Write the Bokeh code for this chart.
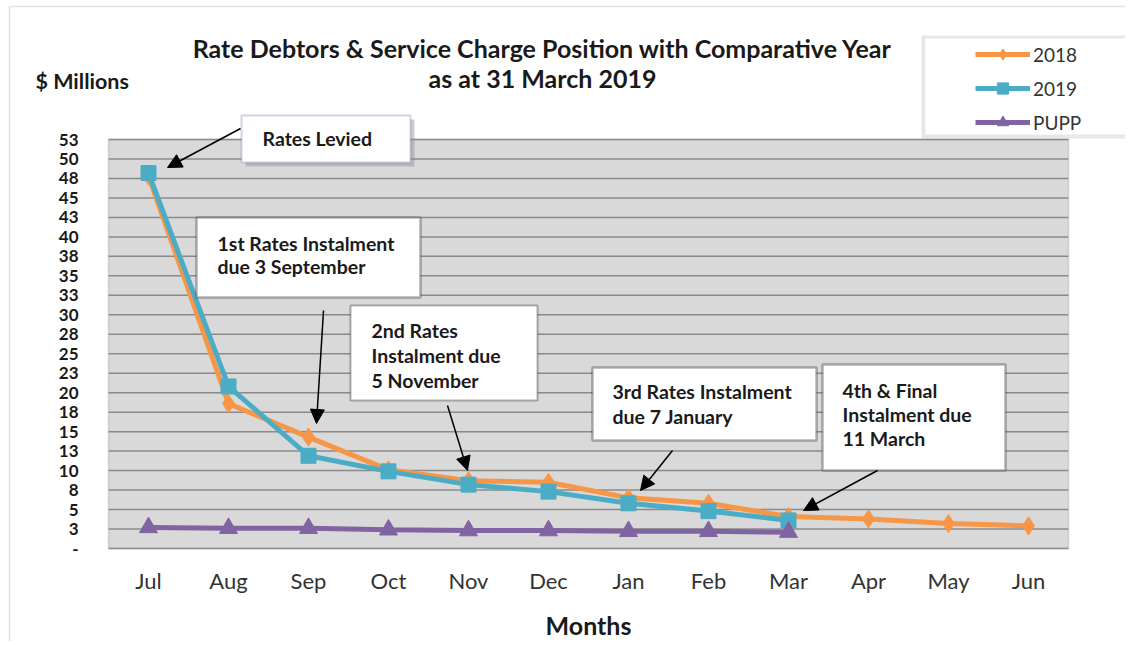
from bokeh.plotting import figure
from bokeh.models import (Range1d, FixedTicker, BoxAnnotation, Label,
                          Arrow, NormalHead, Legend, LegendItem)
from bokeh.embed import file_html
from bokeh.resources import INLINE

# ---------------- data ----------------
months = ["Jul", "Aug", "Sep", "Oct", "Nov", "Dec", "Jan", "Feb", "Mar", "Apr", "May", "Jun"]
rates_2018 = [47.8, 18.6, 14.3, 10.1, 8.7, 8.5, 6.5, 5.8, 4.1, 3.8, 3.2, 2.9]
rates_2019 = [48.2, 20.8, 11.9, 9.9, 8.2, 7.3, 5.8, 4.8, 3.6]
pupp = [2.7, 2.6, 2.6, 2.4, 2.3, 2.3, 2.2, 2.2, 2.1]
y_ticks = [0, 2.5, 5, 7.5, 10, 12.5, 15, 17.5, 20, 22.5, 25, 27.5, 30, 32.5, 35,
           37.5, 40, 42.5, 45, 47.5, 50, 52.5]
y_tick_labels = ["-", "3", "5", "8", "10", "13", "15", "18", "20", "23", "25", "28",
                 "30", "33", "35", "38", "40", "43", "45", "48", "50", "53"]
series_names = ["2018", "2019", "PUPP"]
title_text = "Rate Debtors & Service Charge Position with Comparative Year\nas at 31 March 2019"
y_unit = "$ Millions"
x_title = "Months"
notes = ["Rates Levied",
         "1st Rates Instalment\ndue 3 September",
         "2nd Rates\nInstalment due\n5 November",
         "3rd Rates Instalment\ndue 7 January",
         "4th & Final\nInstalment due\n11 March"]

FONT = "Lato"
ORANGE = "#F79646"
BLUE = "#4BACC6"
PURPLE = "#8064A2"

W, H = 1125, 641
FL, FB = 108, 548                   # plot-area left / bottom (pixels)
PXX = 80.0                          # pixels per month
PXY = 409.0 / y_ticks[-1]           # pixels per $m
n_months = len(months)
xpos = [i + 0.5 for i in range(n_months)]


def ux(px):
    return (px - FL) / PXX


def vy(py):
    return (FB - py) / PXY


# the frame covers the whole canvas; axes are pinned at the plot-area edges
p = figure(width=W, height=H, x_range=Range1d(ux(0), ux(W)),
           y_range=Range1d(vy(H), vy(0)), output_backend="svg", toolbar_location=None,
           min_border_left=0, min_border_right=0, min_border_top=0,
           min_border_bottom=0)
p.background_fill_color = "white"
p.border_fill_color = "white"
p.outline_line_color = None
p.grid.grid_line_color = None

# grey plot area
p.add_layout(BoxAnnotation(left=0, right=n_months, bottom=0, top=y_ticks[-1],
                           fill_color="#D9D9D9", fill_alpha=1, line_color="#8c8c8c",
                           line_width=1.5, level="underlay"))
# horizontal gridlines at the y ticks, limited to the plot area
p.segment(x0=[0] * len(y_ticks), x1=[n_months] * len(y_ticks), y0=y_ticks, y1=y_ticks,
          line_color="#8a8a8a", line_width=1.5)

yax = p.yaxis[0]
yax.fixed_location = 0
yax.ticker = FixedTicker(ticks=y_ticks)
yax.major_label_overrides = {t: l for t, l in zip(y_ticks, y_tick_labels)}
yax.axis_line_color = None
yax.major_tick_line_color = None
yax.minor_tick_line_color = None
yax.major_label_standoff = 24
yax.major_label_text_font = FONT
yax.major_label_text_font_style = "bold"
yax.major_label_text_font_size = "17px"
yax.major_label_text_color = "#1a1a1a"

xax = p.xaxis[0]
xax.fixed_location = 0
xax.ticker = FixedTicker(ticks=xpos)
xax.major_label_overrides = {x: m for x, m in zip(xpos, months)}
xax.axis_line_color = None
xax.major_tick_line_color = None
xax.minor_tick_line_color = None
xax.major_label_standoff = 12
xax.major_label_text_font = FONT
xax.major_label_text_font_size = "22px"
xax.major_label_text_color = "#333333"

# outer chart border (left & top)
p.add_layout(BoxAnnotation(left=ux(9), right=ux(W + 50), top=vy(6), bottom=vy(H + 50),
                           fill_alpha=0, line_color="#9a9a9a", line_width=1.5))

# series
l18 = p.line(xpos, rates_2018, line_color=ORANGE, line_width=5)
s18 = p.scatter(xpos, rates_2018, marker="diamond", size=18, fill_color=ORANGE,
                line_color=ORANGE)
l19 = p.line(xpos[:len(rates_2019)], rates_2019, line_color=BLUE, line_width=5)
s19 = p.scatter(xpos[:len(rates_2019)], rates_2019, marker="square", size=15,
                fill_color=BLUE, line_color=BLUE)
lp = p.line(xpos[:len(pupp)], pupp, line_color=PURPLE, line_width=5)
sp = p.scatter(xpos[:len(pupp)], pupp, marker="triangle", size=18, fill_color=PURPLE,
               line_color=PURPLE)

# title, unit label, x-axis title
p.add_layout(Label(x=ux(542), y=vy(62), text=title_text, text_align="center",
                   text_baseline="middle", text_font=FONT, text_font_size="25px",
                   text_font_style="bold", text_color="#1a1a1a", text_line_height=1.0))
p.add_layout(Label(x=ux(35), y=vy(80), text=y_unit, text_align="left",
                   text_baseline="middle", text_font=FONT, text_font_size="21.5px",
                   text_font_style="bold", text_color="#1a1a1a"))
p.add_layout(Label(x=n_months / 2, y=vy(624), text=x_title, text_align="center",
                   text_baseline="middle", text_font=FONT, text_font_size="25px",
                   text_font_style="bold", text_color="#1a1a1a"))

# annotation boxes in pixel terms: (left, right, top, bottom, text_x, text_mid, border, shadow, lw, lh)
boxes = [
    (241, 410, 115, 162, 262, 138, PURPLE, True, 2, 1.0),
    (196, 420, 217, 297, 217, 254.5, "black", False, 2.5, 1.04),
    (350, 537, 305, 400, 371, 355, "black", False, 2, 1.08),
    (592, 816, 367, 440, 612, 403.5, "black", False, 2.5, 1.06),
    (822, 1005, 364, 470, 842, 414, "black", False, 2.5, 1.06),
]
for (l, r, t, b, tx, tm, col, sh, lw, lh), note in zip(boxes, notes):
    if sh:
        p.add_layout(BoxAnnotation(left=ux(l + 4), right=ux(r + 4), top=vy(t + 4),
                                   bottom=vy(b + 4), fill_color="#8e8e8e",
                                   fill_alpha=0.45, line_color=None))
    p.add_layout(BoxAnnotation(left=ux(l), right=ux(r), top=vy(t), bottom=vy(b),
                               fill_color="white", fill_alpha=1, line_color=col,
                               line_width=lw))
    p.add_layout(Label(x=ux(tx), y=vy(tm), text=note, text_align="left",
                       text_baseline="middle", text_font=FONT, text_font_size="19.5px",
                       text_font_style="bold", text_color="#1a1a1a",
                       text_line_height=lh))

# arrows in pixel terms: (x_start, y_start, x_end, y_end)
arrows = [
    (240, 128, 167, 167),
    (323, 310, 316, 423),
    (447, 405, 467, 470),
    (672, 450, 640, 490),
    (877, 470, 803, 510),
]
for xs, ys, xe, ye in arrows:
    p.add_layout(Arrow(x_start=ux(xs), y_start=vy(ys), x_end=ux(xe), y_end=vy(ye),
                       line_color="black", line_width=1.5,
                       end=NormalHead(size=14, fill_color="black", line_color="black")))

# legend panel with soft shadow
p.add_layout(BoxAnnotation(left=ux(921), right=ux(W + 5), top=vy(35), bottom=vy(138),
                           fill_color="#9e9e9e", fill_alpha=0.25, line_color=None))
p.add_layout(BoxAnnotation(left=ux(925), right=ux(W + 5), top=vy(38), bottom=vy(134),
                           fill_color="white", fill_alpha=1, line_color=None))

legend = Legend(items=[LegendItem(label=series_names[0], renderers=[l18, s18]),
                       LegendItem(label=series_names[1], renderers=[l19, s19]),
                       LegendItem(label=series_names[2], renderers=[lp, sp])],
                location=(975, H - 136), padding=0, spacing=6, glyph_height=28,
                glyph_width=55, label_standoff=3, label_height=20,
                background_fill_alpha=0, border_line_alpha=0,
                label_text_font=FONT, label_text_font_size="19px",
                label_text_color="#333333", margin=0)
p.add_layout(legend, "center")

open("out.html", "w").write(file_html(p, INLINE))
